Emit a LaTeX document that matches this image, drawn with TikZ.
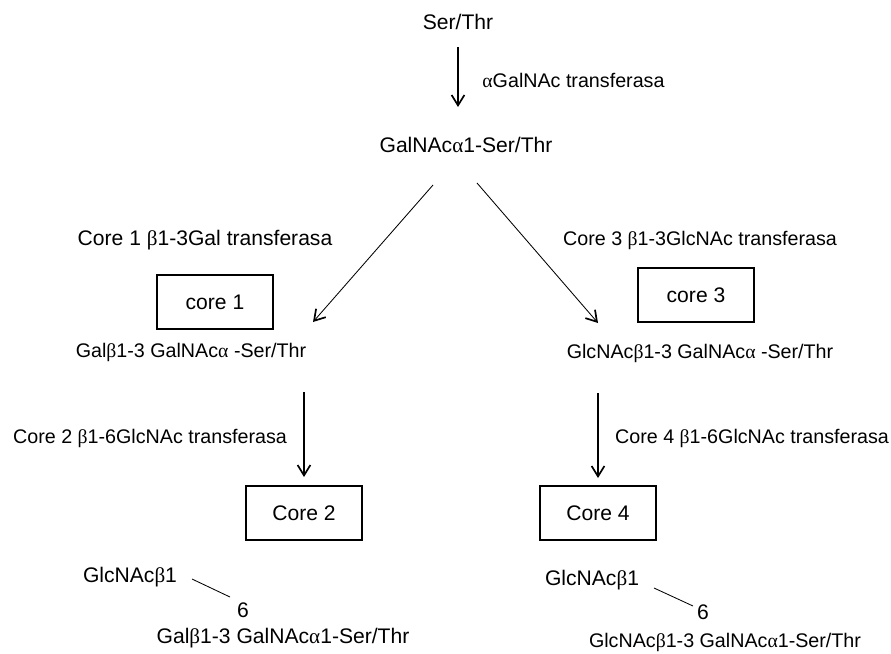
\documentclass[tikz,border=0pt]{standalone}
\usepackage{fontspec}
\setmainfont{Liberation Sans}
\newfontfamily\grkfont{Liberation Serif}
\newcommand{\symA}{{\grkfont α}}
\newcommand{\symB}{{\grkfont β}}
\usepackage{tikz}
\usetikzlibrary{arrows.meta,calc}

\begin{document}
\begin{tikzpicture}[
  x=0.025cm, y=-0.025cm,
  txt/.style={inner sep=0pt, font=\fontsize{15}{18}\selectfont},
  stxt/.style={inner sep=0pt, font=\fontsize{14}{17}\selectfont},
  corebox/.style={draw, line width=0.8pt, minimum width=2.9cm, minimum height=1.35cm,
                  inner sep=0pt, font=\fontsize{15}{18}\selectfont},
  >={Straight Barb[length=2.6mm, width=3.2mm, line width=1.2pt]}, line width=0.6pt
]
  \useasboundingbox (0,0) rectangle (891,653);
  % top of the pathway
  \node[txt] (ser) at (458,22) {Ser/Thr};
  \node[stxt, anchor=west] (agt) at (482,80) {\symA GalNAc transferasa};
  \node[txt] (galnac) at (466,145) {GalNAc\symA 1-Ser/Thr};
  \draw[->, line width=0.8pt] ($(ser.center)+(0,25)$) -- ($(galnac.center)+(-8,-38)$);

  % core 1 / core 3 branch
  \node[txt] (t1) at (205,240) {Core 1 \symB 1-3Gal transferasa};
  \node[corebox] (core1) at (215,302) {core 1};
  \node[stxt] (c1prod) at (191,352) {Gal\symB 1-3 GalNAc\symA\ -Ser/Thr};
  \node[stxt] (t3) at (700,240) {Core 3 \symB 1-3GlcNAc transferasa};
  \node[corebox] (core3) at (696,295) {core 3};
  \node[stxt] (c3prod) at (700,353) {GlcNAc\symB 1-3 GalNAc\symA\ -Ser/Thr};
  \draw[->] ($(galnac.center)+(-33,40)$) -- ($(c1prod.center)+(122,-30)$);
  \draw[->] ($(galnac.center)+(11,38)$) -- ($(c3prod.center)+(-102,-30)$);

  % core 2 / core 4
  \node[stxt] (t2) at (150,438) {Core 2 \symB 1-6GlcNAc transferasa};
  \node[corebox] (core2) at (304,513) {Core 2};
  \node[stxt] (t4) at (752,438) {Core 4 \symB 1-6GlcNAc transferasa};
  \node[corebox] (core4) at (598,513) {Core 4};
  \draw[->, line width=0.8pt] ($(c1prod.center -| core2.center)+(0,40)$) -- ($(core2.center)+(0,-36)$);
  \draw[->, line width=0.8pt] ($(c3prod.center -| core4.center)+(0,40)$) -- ($(core4.center)+(0,-35)$);

  % branched structures
  \node[txt] (glcL) at (130,577) {GlcNAc\symB 1};
  \node[txt] (sixL) at (243,610) {6};
  \node[txt] (galL) at (283,638) {Gal\symB 1-3 GalNAc\symA 1-Ser/Thr};
  \draw ($(glcL.center)+(62,2)$) -- ($(sixL.center)+(-13,-13)$);
  \node[txt] (glcR) at (592,580) {GlcNAc\symB 1};
  \node[txt] (sixR) at (703,612) {6};
  \node[stxt] (glcnR) at (725,642) {GlcNAc\symB 1-3 GalNAc\symA 1-Ser/Thr};
  \draw ($(glcR.center)+(62,8)$) -- ($(sixR.center)+(-10,-6)$);
\end{tikzpicture}
\end{document}
